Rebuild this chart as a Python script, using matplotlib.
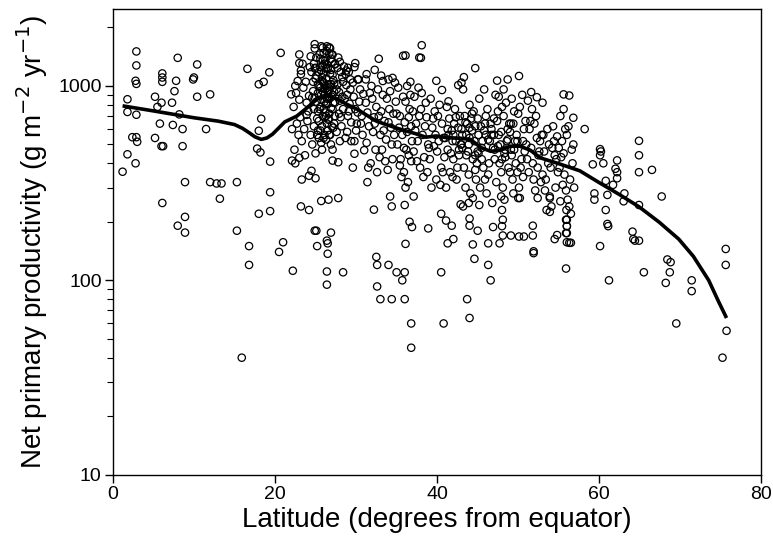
"""Net primary productivity against latitude, with a smoothed trend line."""
import matplotlib
matplotlib.use("Agg")
import matplotlib.pyplot as plt
import numpy as np
from matplotlib.ticker import FixedLocator, LogLocator, NullFormatter

# --- sites, grouped by latitude band ---
# low latitudes (0-22)
lat_low = [1.2, 1.8, 1.8, 1.8, 2.4, 2.9, 3.0, 2.9, 2.9, 2.8, 2.9, 2.9, 2.8,
           5.2, 5.2, 5.5, 6.1, 6.1, 6.1, 6.0, 5.8, 6.0, 6.2, 6.1,
           7.3, 7.6, 7.8, 8.0, 7.4, 8.2, 8.6, 8.6, 8.9, 8.9, 8.0, 8.9,
           10.0, 9.9, 10.4, 10.4, 12.0, 11.5, 12.0, 12.8, 13.4, 13.2, 15.3, 15.3,
           15.9, 16.6, 16.8, 16.8, 18.0, 18.6, 18.3, 18.0, 17.8, 18.2, 19.3,
           19.4, 19.4, 19.4, 18.0, 20.7, 21.0, 20.5, 22.2, 22.0, 22.1]
npp_low = [362, 854, 735, 445, 545, 545, 516, 1505, 1275, 1063, 1025, 711, 400,
           540, 880, 780, 1160, 1105, 1050, 820, 640, 490, 490, 250,
           820, 940, 1063, 1395, 630, 714, 600, 490, 320, 212, 191, 176,
           1105, 1080, 1290, 880, 905, 600, 320, 315, 315, 263, 320, 180,
           40, 1225, 150, 120, 1020, 1050, 678, 588, 476, 455, 1175,
           408, 284, 227, 220, 1480, 157, 140, 112, 905, 600]

# subtropical peak (22-31): dense cloud, then scattered sites
lat_sub = [22.3, 22.9, 22.5, 22.7, 23.0, 22.4, 22.8, 23.1, 23.3, 22.6,
           23.4, 23.2, 23.6, 23.9, 23.5, 23.7, 24.1, 23.8, 24.4, 24.0,
           24.3, 24.2, 24.6, 24.5, 23.9, 24.7, 24.4, 24.8, 25.1, 24.9,
           25.0, 25.3, 25.2, 24.8, 25.5, 25.4, 25.1, 24.9, 25.3, 25.0,
           25.6, 25.9, 26.2, 25.7, 26.4, 26.0, 25.8, 26.3, 25.6, 26.1,
           26.5, 25.9, 26.2, 25.7, 26.4, 26.0, 25.8, 26.3, 25.6, 26.1,
           26.5, 26.0, 25.7, 26.4, 26.2, 25.9, 26.3, 25.8, 26.1, 26.5,
           26.7, 27.1, 26.9, 27.3, 26.6, 27.0, 27.4, 26.8, 27.2, 26.7,
           27.0, 27.3, 26.9, 27.4, 26.6, 27.1, 26.8, 27.2, 27.0, 26.7,
           27.3, 26.9, 27.1, 27.4,
           27.7, 28.1, 27.9, 28.3, 27.6, 28.0, 28.4, 27.8, 28.2, 27.7,
           28.0, 28.3, 27.9, 28.4, 27.6, 28.1,
           28.7, 29.1, 28.9, 29.3, 28.6, 29.0, 29.4, 28.8, 29.2, 28.7,
           29.0, 29.3, 28.9, 29.4,
           29.7, 30.1, 30.5, 29.9, 30.3, 30.7, 29.6, 30.0, 30.4, 30.8,
           30.2, 30.9, 29.8, 30.6,
           23.0, 23.0, 23.2, 24.9, 25.9, 26.4, 26.8, 27.1, 27.4, 28.0, 28.5, 28.8,
           29.1, 29.9, 30.2, 31.3, 29.8,
           22.1, 22.5, 23.0, 23.3, 23.2, 24.2, 24.2, 24.5, 25.0, 25.1, 24.9, 25.2,
           25.7, 26.4, 26.5, 26.5, 26.4, 26.4, 26.9, 26.6, 27.8, 28.4, 27.1, 27.8,
           29.6, 29.8, 31.4, 31.0]
npp_sub = [780, 560, 1000, 640, 850, 470, 1060, 690, 520, 920,
           1300, 1150, 600, 820, 980, 440, 740, 1050, 560, 660,
           1250, 890, 500, 1180, 710, 940, 1420, 620, 830, 1560,
           450, 1020, 680, 1300, 760, 540, 1130, 870, 590, 1240,
           980, 700, 1350, 510, 860, 1480, 620, 1090, 780, 560,
           1230, 940, 730, 1600, 640, 1160, 470, 810, 1380, 900,
           590, 1040, 850, 1510, 1000, 1270, 530, 1060, 690, 950,
           1580, 760, 1210, 640, 1020, 880, 1300, 560, 1070, 720,
           1450, 930, 500, 820, 680, 1140, 990, 610, 1330, 860,
           1030, 770, 470, 700,
           1240, 690, 930, 1110, 580, 840, 760, 1400, 620, 1020,
           520, 880, 720, 1050, 960, 1180,
           1150, 740, 580, 960, 860, 1240, 650, 1010, 810, 540,
           700, 1080, 900, 520,
           880, 640, 960, 760, 1080, 700, 1040, 590, 830, 560,
           730, 910, 520, 640,
           1452, 1310, 1200, 1640, 1575, 1600, 1560, 1450, 1290, 1330, 1260, 1200,
           1180, 1310, 1080, 1150, 1250,
           413, 400, 427, 330, 240, 230, 345, 366, 335, 180, 180, 150,
           256, 160, 155, 137, 111, 95, 176, 260, 265, 110, 413, 405,
           380, 448, 320, 467]

# extra sites inside the two darkest clouds
lat_core = [25.1, 25.4, 25.7, 26.0, 26.3, 26.6, 26.9, 25.2, 25.5, 25.8,
            26.1, 26.4, 26.7, 25.3, 25.6, 25.9, 26.2, 26.5, 26.8, 25.0,
            24.6, 24.9, 25.4, 25.7, 26.0, 26.6, 27.0, 24.7, 25.3, 26.3,
            26.9, 27.2, 25.5, 26.1, 26.7, 24.8, 25.9, 26.4, 27.1, 25.6,
            41.3, 41.9, 42.3, 42.7, 43.1, 43.5, 43.9, 44.3, 44.7, 45.1,
            45.5, 45.9, 46.3, 46.7, 47.1, 47.5, 47.9, 48.3, 48.7, 49.1,
            49.5, 49.9, 42.0, 43.0, 44.0, 45.0, 46.0, 47.0, 48.0, 49.0]
npp_core = [1400, 1180, 900, 760, 1230, 670, 1020, 560, 1450, 1110,
            830, 1290, 1470, 740, 590, 1360, 960, 810, 1160, 1090,
            870, 1230, 660, 1200, 540, 940, 620, 1050, 920, 700,
            1380, 820, 1000, 1300, 560, 760, 1050, 980, 900, 1250,
            600, 520, 690, 470, 560, 650, 500, 720, 440, 560,
            480, 640, 530, 600, 420, 490, 580, 450, 530, 640,
            470, 520, 560, 500, 610, 460, 560, 680, 420, 360]

# mid latitudes (31-45)
lat_mid = [31.2, 31.6, 32.0, 32.4, 31.4, 32.7, 31.8, 32.2, 33.0, 31.3,
           32.5, 31.7, 32.9, 32.1, 31.5, 32.8, 31.9, 32.3, 32.6, 31.2,
           33.3, 33.7, 34.1, 34.5, 33.5, 34.8, 33.9, 34.3, 33.2, 34.6,
           33.8, 34.0, 34.4, 33.4, 34.9, 33.6, 34.2, 34.7, 33.1, 34.0,
           35.2, 35.7, 36.1, 36.5, 35.4, 36.8, 35.9, 36.3, 35.1, 36.6,
           35.5, 36.0, 35.8, 36.4, 35.3, 36.9, 36.2, 35.6, 36.7, 35.0,
           36.3, 35.9, 36.5, 35.4, 36.1, 36.8,
           37.2, 37.6, 38.0, 38.4, 37.4, 38.7, 37.9, 38.2, 37.1, 38.6,
           37.7, 38.3, 37.3, 38.9, 37.8, 38.5, 37.5, 38.1, 37.0, 38.8,
           39.2, 39.6, 40.1, 40.5, 39.4, 40.8, 39.9, 40.3, 39.1, 40.6,
           39.7, 40.0, 39.3, 40.9, 39.8, 40.4, 39.5, 40.7, 40.2, 39.0,
           41.2, 41.7, 42.1, 42.5, 41.4, 42.8, 41.9, 42.3, 41.1, 42.6,
           41.5, 42.0, 41.3, 42.9, 41.8, 42.4, 41.6, 42.7, 42.2, 41.0,
           43.2, 43.6, 44.0, 44.4, 43.4, 44.7, 43.9, 44.2, 43.1, 44.6,
           43.7, 44.9, 43.3, 44.1, 43.8, 44.5, 43.5, 44.8, 44.3, 43.0,
           43.9, 44.4, 43.6, 44.0, 44.7,
           32.3, 32.8, 33.1, 33.3, 36.1, 36.7, 38.0, 38.1, 39.9, 40.6, 41.4, 42.6,
           43.0, 43.3, 44.7, 35.8, 37.8, 34.5,
           32.2, 32.5, 32.6, 32.6, 33.0, 34.0, 34.4, 34.2, 34.4, 35.0, 35.7, 36.0,
           36.0, 36.1, 36.0, 36.6, 36.9, 36.8, 36.8, 37.1, 38.9, 40.5, 40.5, 40.8,
           41.1, 41.3, 41.8, 42.0, 42.9, 43.2, 43.7, 44.0, 44.0, 44.0, 44.4, 44.6,
           45.0, 45.2]
npp_mid = [1080, 620, 860, 470, 730, 960, 400, 690, 560, 510,
           780, 920, 430, 580, 380, 700, 1000, 640, 360, 820,
           900, 530, 760, 420, 660, 1040, 370, 610, 470, 720,
           860, 1080, 500, 590, 830, 410, 940, 560, 740, 650,
           980, 560, 830, 440, 700, 620, 360, 1000, 500, 760,
           420, 650, 880, 320, 610, 520, 470, 340, 900, 720,
           580, 480, 690, 390, 300, 410,
           880, 520, 760, 430, 640, 690, 380, 560, 460, 820,
           980, 340, 590, 500, 700, 620, 410, 920, 740, 360,
           860, 490, 700, 380, 610, 540, 330, 800, 420, 640,
           740, 460, 300, 430, 560, 310, 680, 360, 520, 480,
           780, 450, 640, 380, 560, 700, 340, 520, 300, 610,
           680, 420, 470, 500, 590, 330, 360, 440, 760, 540,
           960, 560, 800, 420, 700, 620, 350, 680, 480, 520,
           640, 400, 380, 280, 460, 740, 300, 330, 590, 600,
           250, 265, 440, 540, 370,
           1210, 1380, 1130, 1060, 1435, 1050, 1395, 1620, 1063, 953, 833, 1010,
           1040, 1110, 1235, 1430, 1400, 1100,
           231, 132, 120, 93, 80, 120, 80, 270, 240, 110, 100, 80,
           110, 154, 244, 200, 188, 60, 45, 270, 185, 110, 220, 60,
           203, 155, 191, 163, 246, 240, 80, 64, 191, 208, 153, 129,
           180, 244]

# high-mid latitudes (45-57)
lat_hm = [45.2, 45.6, 46.0, 46.4, 45.4, 46.7, 45.9, 46.2, 45.1, 46.6,
          45.7, 46.1, 45.3, 46.9, 45.8, 46.3, 45.5, 46.8, 46.5, 45.0,
          47.2, 47.6, 48.0, 48.4, 47.4, 48.7, 47.9, 48.2, 47.1, 48.6,
          47.7, 48.1, 47.3, 48.9, 47.8, 48.3, 47.5, 48.8, 48.5, 47.0,
          48.0, 48.1, 48.0, 47.9, 48.4, 47.6,
          49.2, 49.6, 50.0, 50.4, 49.4, 50.7, 49.9, 50.2, 49.1, 50.6,
          49.7, 50.1, 49.3, 50.9, 49.8, 50.3, 49.5, 50.8, 50.5, 49.0,
          50.0, 50.2, 49.4, 50.6, 49.2,
          51.2, 51.6, 52.0, 52.4, 51.4, 52.7, 51.9, 52.2, 51.1, 52.6,
          51.7, 52.1, 51.3, 52.9, 51.8, 52.3, 51.5, 52.8, 52.5, 51.0,
          53.2, 53.6, 54.0, 54.4, 53.4, 54.7, 53.9, 54.2, 53.1, 54.6,
          53.7, 54.1, 53.3, 54.9, 53.8, 54.3, 53.5, 54.8, 54.5, 53.0,
          55.2, 55.6, 56.0, 56.4, 55.4, 56.7, 55.9, 56.2, 55.1, 56.6,
          55.7, 56.1, 55.3, 56.9, 55.8, 56.3, 55.5, 56.8, 56.5, 55.0,
          55.9, 56.0, 55.9, 55.95,
          45.8, 47.4, 48.2, 48.7, 50.1, 51.6, 52.3, 53.0, 55.6, 56.3, 55.6, 56.8,
          46.3, 46.6, 46.3, 46.9, 47.7, 48.1, 49.1, 50.1, 50.7, 51.8, 51.9, 51.9,
          51.8, 52.4, 53.9, 53.9, 54.5, 54.8, 55.2, 55.9, 56.0, 56.0, 56.0, 56.0,
          56.3, 56.5]
npp_hm = [860, 520, 700, 400, 620, 560, 330, 760, 450, 640,
          380, 280, 300, 480, 590, 350, 420, 250, 520, 680,
          900, 560, 780, 430, 660, 600, 360, 700, 470, 520,
          400, 300, 320, 640, 500, 260, 740, 380, 820, 560,
          230, 205, 190, 270, 470, 880,
          860, 520, 720, 420, 640, 600, 360, 780, 470, 520,
          400, 300, 330, 660, 560, 380, 740, 460, 900, 580,
          265, 265, 280, 340, 440,
          840, 480, 640, 380, 600, 520, 330, 700, 420, 460,
          760, 290, 360, 560, 400, 540, 660, 320, 440, 500,
          460, 600, 380, 520, 330, 420, 270, 480, 560, 300,
          400, 240, 290, 360, 500, 620, 230, 550, 440, 350,
          700, 450, 560, 330, 520, 400, 290, 620, 380, 470,
          350, 260, 430, 300, 600, 240, 310, 500, 220, 480,
          205, 190, 175, 230,
          960, 1065, 960, 1080, 1125, 930, 875, 820, 905, 893, 760, 686,
          120, 100, 155, 188, 155, 170, 170, 168, 168, 170, 141, 138,
          191, 265, 225, 265, 163, 171, 255, 115, 157, 175, 190, 205,
          156, 156]

# high latitudes (57-76)
lat_high = [58.2, 59.2, 59.4, 59.4, 60.1, 60.2, 60.1, 60.5, 60.8, 61.0, 60.8,
            61.0, 61.1, 60.1, 61.2, 61.7, 62.0, 62.2, 62.2, 62.2, 63.1, 63.0,
            64.1, 64.2, 64.4, 64.9, 64.9, 64.9, 64.9, 64.9, 65.5, 66.5, 67.7,
            68.2, 68.4, 68.8, 68.7, 69.5, 71.4, 71.4, 75.6, 75.6, 75.7, 75.2]
npp_high = [600, 395, 280, 260, 473, 460, 440, 400, 325, 275, 230,
            195, 190, 150, 100, 310, 375, 414, 360, 335, 280, 255,
            178, 163, 160, 522, 440, 360, 244, 160, 110, 370, 270,
            97, 128, 124, 110, 60, 100, 88, 145, 120, 55, 40]

# smoothed trend line
curve_lat = [1.2, 5.0, 10.0, 13.0, 15.0, 16.0, 16.8, 17.5, 18.3, 19.0, 19.7,
             20.5, 21.2, 22.7, 24.0, 25.2, 26.4, 27.6, 28.8, 30.1, 32.5, 35.0,
             37.4, 38.6, 39.9, 41.1, 42.9, 44.1, 45.4, 46.6, 47.8, 49.0, 50.2,
             51.5, 52.7, 55.1, 57.6, 60.0, 62.5, 64.9, 67.4, 69.8, 71.6, 73.5,
             74.7, 75.7]
curve_npp = [790, 744, 686, 659, 633, 605, 575, 548, 531, 540, 565,
             610, 653, 700, 775, 857, 893, 857, 807, 760, 659, 607,
             567, 545, 553, 542, 538, 531, 482, 461, 467, 490, 490,
             467, 427, 397, 366, 318, 276, 239, 199, 163, 133, 100,
             78, 64]

bands = [(lat_low, npp_low), (lat_sub, npp_sub), (lat_core, npp_core),
         (lat_mid, npp_mid), (lat_hm, npp_hm), (lat_high, npp_high)]
for la, nv in bands:
    assert len(la) == len(nv)
lat = np.concatenate([np.array(la) for la, _ in bands])
npp = np.concatenate([np.array(nv) for _, nv in bands])

plt.rcParams["font.family"] = ["Liberation Sans", "DejaVu Sans"]

fig = plt.figure(figsize=(7.73, 5.37), dpi=100)
ax = fig.add_axes([0.146, 0.116, 0.839, 0.868])

ax.scatter(lat, npp, s=28, facecolors="none", edgecolors="black",
           linewidths=0.9, zorder=2)
ax.plot(curve_lat, curve_npp, color="black", linewidth=2.6, zorder=3,
        solid_capstyle="butt")

ax.set_yscale("log")
ax.set_xlim(0, 80)
ax.set_ylim(10, 2500)
ax.xaxis.set_major_locator(FixedLocator([0, 20, 40, 60, 80]))
ax.yaxis.set_major_locator(FixedLocator([10, 100, 1000]))
ax.set_yticklabels(["10", "100", "1000"])
ax.yaxis.set_minor_locator(LogLocator(base=10, subs=np.arange(2, 10)))
ax.yaxis.set_minor_formatter(NullFormatter())

ax.tick_params(axis="both", which="major", direction="out", length=6,
               width=1.0, labelsize=14, pad=2)
ax.tick_params(axis="y", which="minor", direction="out", length=4, width=0.8)
for side in ax.spines.values():
    side.set_linewidth(1.0)

ax.set_xlabel("Latitude (degrees from equator)", fontsize=20)
ax.set_ylabel("Net primary productivity (g m$^{-2}$ yr$^{-1}$)", fontsize=20)
ax.yaxis.set_label_coords(-0.097, 0.5)
ax.xaxis.set_label_coords(0.5, -0.07)

fig.savefig("out.png", dpi=100)
plt.close(fig)
